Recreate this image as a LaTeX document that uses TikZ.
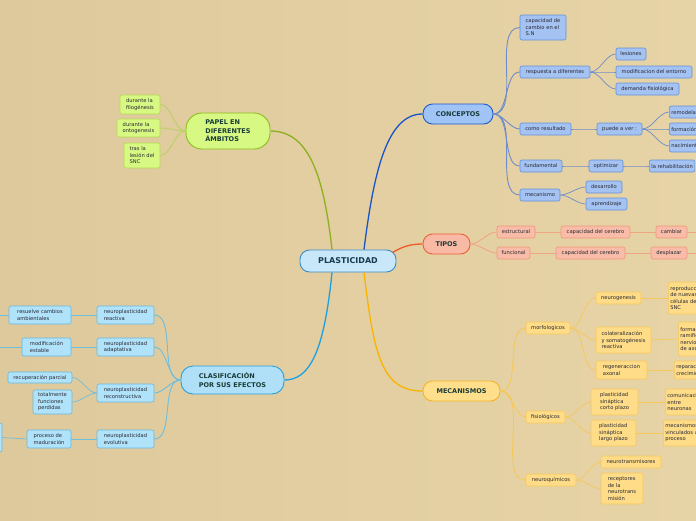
\documentclass[tikz,border=0pt]{standalone}
\usepackage{fontspec}
\setmainfont{DejaVu Sans}
\usetikzlibrary{calc}
\definecolor{bgL}{RGB}{222,201,157}
\definecolor{bgR}{RGB}{231,212,166}
\definecolor{txt}{RGB}{40,40,50}
\definecolor{maintxt}{RGB}{25,60,55}
\definecolor{plfill}{RGB}{200,232,250}\definecolor{plline}{RGB}{60,140,200}
\definecolor{cofill}{RGB}{160,196,245}\definecolor{coline}{RGB}{30,90,200}
\definecolor{cfill}{RGB}{164,194,242}\definecolor{cline}{RGB}{100,145,215}\definecolor{clink}{RGB}{110,140,200}
\definecolor{tifill}{RGB}{248,185,165}\definecolor{tiline}{RGB}{238,95,55}
\definecolor{tfill}{RGB}{248,188,168}\definecolor{tline}{RGB}{240,150,120}\definecolor{tlink}{RGB}{240,165,130}
\definecolor{mefill}{RGB}{255,222,140}\definecolor{meline}{RGB}{245,180,40}
\definecolor{mfill}{RGB}{255,220,135}\definecolor{mline}{RGB}{245,200,95}\definecolor{mlink}{RGB}{245,200,90}
\definecolor{clfill}{RGB}{176,224,248}\definecolor{clline}{RGB}{40,160,220}
\definecolor{kfill}{RGB}{176,226,250}\definecolor{kline}{RGB}{100,185,225}\definecolor{klink}{RGB}{110,190,220}
\definecolor{pafill}{RGB}{215,248,130}\definecolor{paline}{RGB}{140,190,30}
\definecolor{pfill}{RGB}{215,248,130}\definecolor{pline}{RGB}{180,215,80}\definecolor{plink}{RGB}{185,210,100}
\definecolor{brco}{RGB}{25,85,200}\definecolor{brti}{RGB}{240,90,40}\definecolor{brme}{RGB}{248,180,0}
\definecolor{brcl}{RGB}{28,160,224}\definecolor{brpa}{RGB}{141,176,32}
\newcommand\mapnode[7]{\node[#1, minimum width={(#5)*1pt-(#3)*1pt}, minimum height={(#6)*1pt-(#4)*1pt}] (#2) at ({(#3+#5)/2},{-(#4+#6)/2}) {#7};}
\newcommand\mapnodeL[6]{\node[#1, anchor=west, minimum height={(#5)*1pt-(#4)*1pt}] (#2) at (#3,{-(#4+#5)/2}) {#6};}
\tikzset{
  base/.style={draw, align=left, inner xsep=2pt, inner ysep=1pt, text=txt,
    font=\fontsize{5.2}{6.5}\selectfont, rounded corners=2pt, line width=0.6pt},
  mainn/.style={draw, align=left, inner sep=2pt, rounded corners=9.5pt, line width=0.9pt,
    font=\fontsize{6.5}{8.6}\selectfont\bfseries, text=maintxt},
  conc/.style={base, fill=cfill, draw=cline},
  tipo/.style={base, fill=tfill, draw=tline},
  meca/.style={base, fill=mfill, draw=mline},
  clas/.style={base, fill=kfill, draw=kline},
  pape/.style={base, fill=pfill, draw=pline},
  rlk/.style={out=0, in=180, looseness=0.8},
  llk/.style={out=180, in=0, looseness=0.8},
  l1/.style={line width=0.9pt},
  l2/.style={line width=0.7pt},
  br/.style={line width=1.3pt}
}
\begin{document}
\begin{tikzpicture}[x=1pt,y=1pt]
\fill[left color=bgL, right color=bgR] (0,0) rectangle (696,-520);
\useasboundingbox (0,0) rectangle (696,-520);
\clip (0,0) rectangle (696,-520);
% main nodes
\mapnode{mainn, fill=plfill, draw=plline, text=plline!40!black, font=\fontsize{8}{10}\selectfont\bfseries}{pl}{300}{250}{396}{272}{PLASTICIDAD}
\mapnode{mainn, fill=cofill, draw=coline}{co}{423}{104}{493}{124}{CONCEPTOS}
\mapnode{mainn, fill=tifill, draw=tiline}{ti}{423}{234}{470}{254}{TIPOS}
\mapnode{mainn, fill=mefill, draw=meline}{me}{423}{381}{500}{401}{MECANISMOS}
\mapnode{mainn, fill=clfill, draw=clline, rounded corners=12pt}{cl}{181}{366}{284}{394}{CLASIFICACIÓN\\POR SUS EFECTOS}
\mapnode{mainn, fill=pafill, draw=paline, rounded corners=16pt}{pa}{186}{113}{270}{149}{PAPEL EN\\DIFERENTES\\ÁMBITOS}
% conceptos
\mapnode{conc}{c1}{520}{15}{566}{40}{capacidad de\\cambio en el\\S.N}
\mapnode{conc}{c2}{520}{66}{590}{78}{respuesta a diferentes}
\mapnode{conc}{c2a}{616}{48}{646}{60}{lesiones}
\mapnode{conc}{c2b}{616}{66}{692}{78}{modificacion del entorno}
\mapnode{conc}{c2c}{616}{83}{679}{95}{demanda fisiológica}
\mapnode{conc}{c3}{520}{123}{571}{135}{como resultado}
\mapnode{conc}{c3a}{597}{123}{642}{135}{puede a ver :}
\mapnodeL{conc}{c3b}{669}{106}{118}{remodelación}
\mapnodeL{conc}{c3c}{669}{123}{135}{formación}
\mapnodeL{conc}{c3d}{669}{140}{152}{nacimiento}
\mapnode{conc}{c4}{520}{160}{562}{172}{fundamental}
\mapnode{conc}{c4a}{589}{160}{623}{172}{optimizar}
\mapnodeL{conc}{c4b}{649}{160}{172}{la rehabilitación}
\mapnode{conc}{c5}{520}{189}{560}{201}{mecanismo}
\mapnode{conc}{c5a}{586}{181}{622}{193}{desarrollo}
\mapnode{conc}{c5b}{586}{198}{627}{210}{aprendizaje}
% tipos
\mapnode{tipo}{t1}{497}{226}{535}{238}{estructural}
\mapnode{tipo}{t1a}{561}{226}{630}{238}{capacidad del cerebro}
\mapnode{tipo}{t1b}{656}{226}{687}{238}{cambiar}
\mapnode{tipo}{t2}{497}{247}{530}{259}{funcional}
\mapnode{tipo}{t2a}{556}{247}{625}{259}{capacidad del cerebro}
\mapnode{tipo}{t2b}{651}{247}{687}{259}{desplazar}
\coordinate (t1e) at (700,-232);
\coordinate (t2e) at (700,-253);
% mecanismos
\mapnode{meca}{m1}{526}{322}{570}{334}{morfologicos}
\mapnode{meca}{m1a}{596}{292}{641}{304}{neurogenesis}
\mapnodeL{meca}{m1b}{668}{282}{314}{reproducción\\de nuevas\\células del\\SNC}
\mapnode{meca}{m1c}{596}{327}{651}{353}{colateralización\\y somatogénesis\\reactiva}
\mapnodeL{meca}{m1d}{678}{322}{356}{formación de\\ramificaciones\\nerviosas\\de axones}
\mapnode{meca}{m1e}{596}{361}{647}{379}{regeneraccion\\axonal}
\mapnodeL{meca}{m1f}{674}{361}{379}{reparación y\\crecimiento}
\mapnode{meca}{m2}{526}{411}{565}{423}{fisiológicos}
\mapnode{meca}{m2a}{591}{389}{638}{415}{plasticidad\\sináptica\\corto plazo}
\mapnodeL{meca}{m2b}{665}{389}{415}{comunicación\\entre\\neuronas}
\mapnode{meca}{m2c}{591}{420}{636}{446}{plasticidad\\sináptica\\largo plazo}
\mapnodeL{meca}{m2d}{663}{420}{446}{mecanismos\\vinculados al\\proceso}
\mapnode{meca}{m3}{526}{474}{576}{486}{neuroquímicos}
\mapnode{meca}{m3a}{601}{456}{661}{468}{neurotransmisores}
\mapnode{meca}{m3b}{601}{473}{643}{504}{receptores\\de la\\neurotrans\\misión}
% clasificacion
\mapnode{clas}{k1}{97}{306}{154}{324}{neuroplasticidad\\reactiva}
\mapnode{clas}{k1a}{9}{306}{71}{324}{resuelve cambios\\ambientales}
\mapnode{clas}{k2}{97}{338}{154}{356}{neuroplasticidad\\adaptativa}
\mapnode{clas}{k2a}{22}{338}{71}{356}{modificación\\estable}
\mapnode{clas}{k3}{97}{384}{154}{402}{neuroplasticidad\\reconstructiva}
\mapnode{clas}{k3a}{8}{372}{72}{383}{recuperación parcial}
\mapnode{clas}{k3b}{33}{390}{72}{414}{totalmente\\funciones\\perdidas}
\mapnode{clas}{k4}{97}{430}{154}{448}{neuroplasticidad\\evolutiva}
\mapnode{clas}{k4a}{27}{430}{71}{448}{proceso de\\maduración}
\mapnode{clas}{k4b}{-40}{423}{2}{452}{}
\coordinate (k1e) at (-5,-315);
\coordinate (k2e) at (-5,-347);
% papel
\mapnode{pape}{p1}{120}{95}{160}{114}{durante la\\filogénesis}
\mapnode{pape}{p2}{117}{119}{160}{137}{durante la\\ontogenesis}
\mapnode{pape}{p3}{124}{143}{160}{168}{tras la\\lesión del\\SNC}
% main branches
\draw[br, brco] ([xshift=16pt]pl.north) .. controls +(10,80) and +(-35,0) .. (co.west);
\draw[br, brti] ([xshift=-4pt,yshift=-3pt]pl.north east) .. controls +(10,6) and +(-12,0) .. (ti.west);
\draw[br, brme] ([xshift=16pt]pl.south) .. controls +(10,-85) and +(-40,0) .. (me.west);
\draw[br, brcl] ([xshift=-16pt]pl.south) .. controls +(-8,-80) and +(25,0) .. (cl.east);
\draw[br, brpa] ([xshift=-16pt]pl.north) .. controls +(-8,70) and +(40,0) .. (pa.east);
% conceptos links
\foreach \t in {c1,c2,c3,c4,c5} \draw[l1, clink] (co.east) to[rlk] (\t.west);
\foreach \t in {c2a,c2b,c2c} \draw[l2, clink] (c2.east) to[rlk] (\t.west);
\draw[l2, clink] (c3.east) to[rlk] (c3a.west);
\foreach \t in {c3b,c3c,c3d} \draw[l2, clink] (c3a.east) to[rlk] (\t.west);
\draw[l2, clink] (c4.east) to[rlk] (c4a.west);
\draw[l2, clink] (c4a.east) to[rlk] (c4b.west);
\foreach \t in {c5a,c5b} \draw[l2, clink] (c5.east) to[rlk] (\t.west);
% tipos links
\foreach \t in {t1,t2} \draw[l1, tlink] (ti.east) to[rlk] (\t.west);
\draw[l2, tlink] (t1.east) -- (t1a.west);
\draw[l2, tlink] (t1a.east) -- (t1b.west);
\draw[l2, tlink] (t1b.east) -- (t1e);
\draw[l2, tlink] (t2.east) -- (t2a.west);
\draw[l2, tlink] (t2a.east) -- (t2b.west);
\draw[l2, tlink] (t2b.east) -- (t2e);
% mecanismos links
\foreach \t in {m1,m2,m3} \draw[l1, mlink] (me.east) to[rlk] (\t.west);
\foreach \t in {m1a,m1c,m1e} \draw[l2, mlink] (m1.east) to[rlk] (\t.west);
\draw[l2, mlink] (m1a.east) -- (m1b.west);
\draw[l2, mlink] (m1c.east) -- (m1d.west);
\draw[l2, mlink] (m1e.east) -- (m1f.west);
\foreach \t in {m2a,m2c} \draw[l2, mlink] (m2.east) to[rlk] (\t.west);
\draw[l2, mlink] (m2a.east) -- (m2b.west);
\draw[l2, mlink] (m2c.east) -- (m2d.west);
\foreach \t in {m3a,m3b} \draw[l2, mlink] (m3.east) to[rlk] (\t.west);
% clasificacion links
\foreach \t in {k1,k2,k3,k4} \draw[l1, klink] (cl.west) to[llk] (\t.east);
\draw[l2, klink] (k1.west) -- (k1a.east);
\draw[l2, klink] (k1a.west) -- (k1e);
\draw[l2, klink] (k2.west) -- (k2a.east);
\draw[l2, klink] (k2a.west) -- (k2e);
\foreach \t in {k3a,k3b} \draw[l2, klink] (k3.west) to[llk] (\t.east);
\draw[l2, klink] (k4.west) -- (k4a.east);
\draw[l2, klink] (k4a.west) -- (k4b.east);
% papel links
\foreach \t in {p1,p2,p3} \draw[l1, plink] (pa.west) to[llk] (\t.east);
\end{tikzpicture}
\end{document}
